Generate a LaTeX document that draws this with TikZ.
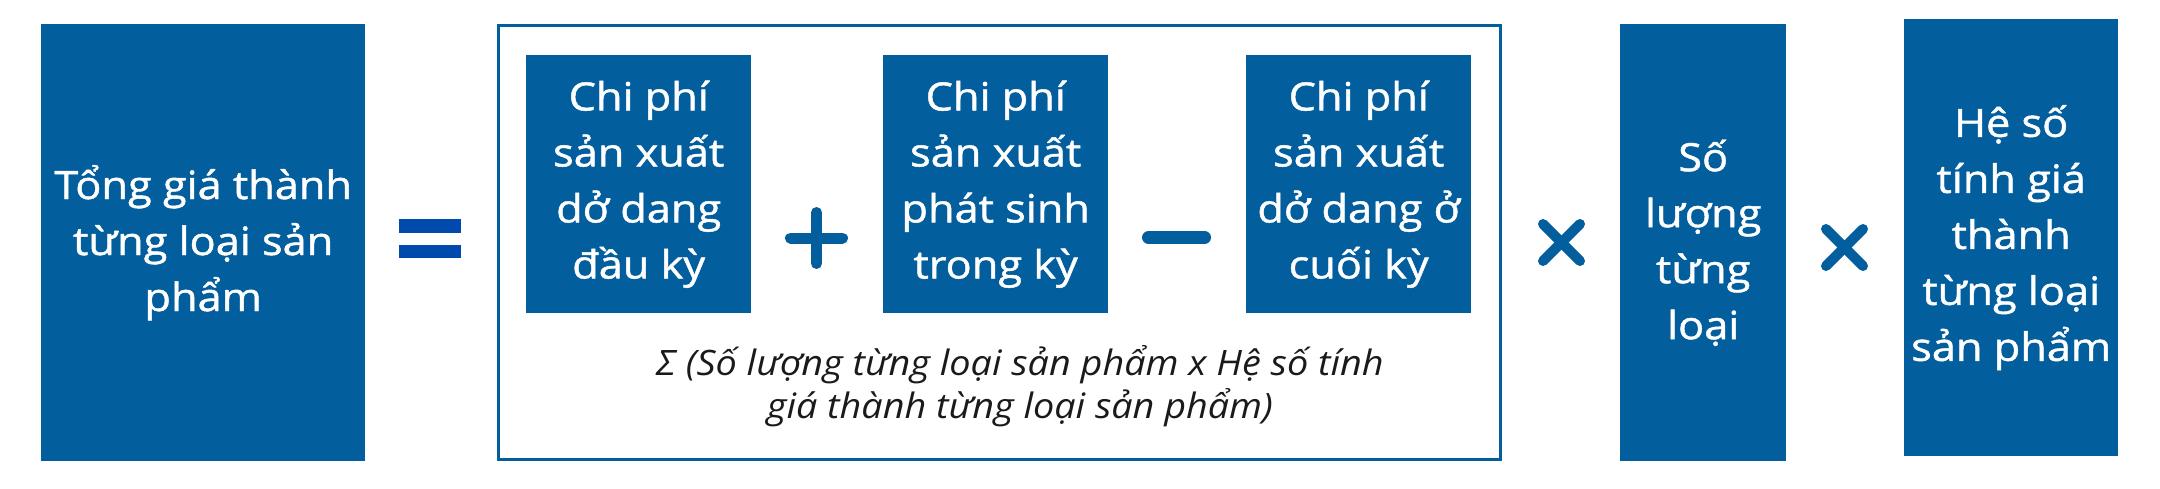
\documentclass[tikz,border=0pt]{standalone}
\usepackage{fontspec}
\setmainfont{Open Sans}
\newfontfamily\boxfont{Open Sans}[FakeBold=1.2,FakeStretch=1.11]
\newfontfamily\capfont{Open Sans}[FakeStretch=1.08]
\definecolor{boxblue}{HTML}{035E9E}
\definecolor{eqblue}{HTML}{004AAD}
\definecolor{captext}{HTML}{1A1A1A}
\begin{document}
\begin{tikzpicture}[x=1pt,y=-1pt,
  bluebox/.style={fill=boxblue,text=white,inner sep=0pt,align=center,anchor=north west,font=\boxfont\fontsize{39}{56}\selectfont},
  opsign/.style={draw=boxblue,line width=11pt,line cap=round},
  frame/.style={draw=boxblue,line width=3pt}]
\useasboundingbox (0,0) rectangle (2160,489);
\node[bluebox,minimum width=324pt,minimum height=437pt] (total) at (41,24) {Tổng giá thành\\từng loại sản\\phẩm};
% equal sign
\fill[eqblue] (399,219) rectangle (461,233);
\fill[eqblue] (399,245) rectangle (461,258);
% frame
\draw[frame] (498.5,25.5) rectangle (1500.5,459.5);
\node[bluebox,minimum width=225pt,minimum height=258pt] (b1) at (526,55) {Chi phí\\sản xuất\\dở dang\\đầu kỳ};
\draw[opsign] (790.5,238) -- (842.5,238);
\draw[opsign] (816.5,212.5) -- (816.5,263.5);
\node[bluebox,minimum width=225pt,minimum height=258pt] (b2) at (883,55) {Chi phí\\sản xuất\\phát sinh\\trong kỳ};
\draw[opsign,line width=13pt] (1148.5,237.5) -- (1204.5,237.5);
\node[bluebox,minimum width=225pt,minimum height=258pt] (b3) at (1246,55) {Chi phí\\sản xuất\\dở dang ở\\cuối kỳ};
\node[align=center,text=captext,inner sep=0pt,font=\capfont\fontsize{35}{43}\selectfont\itshape] (cap) at (1020,386) {Σ (Số lượng từng loại sản phẩm x Hệ số tính\\giá thành từng loại sản phẩm)};
% times 1
\draw[opsign,line width=10pt] (1543,224) -- (1580,261);
\draw[opsign,line width=10pt] (1580,224) -- (1543,261);
\node[bluebox,minimum width=166pt,minimum height=437pt] (b4) at (1620,24) {Số\\lượng\\từng\\loại};
% times 2
\draw[opsign,line width=10pt] (1826,229) -- (1863,266);
\draw[opsign,line width=10pt] (1863,229) -- (1826,266);
\node[bluebox,minimum width=214pt,minimum height=437pt] (b5) at (1904,19) {Hệ số\\tính giá\\thành\\từng loại\\sản phẩm};
\end{tikzpicture}
\end{document}
